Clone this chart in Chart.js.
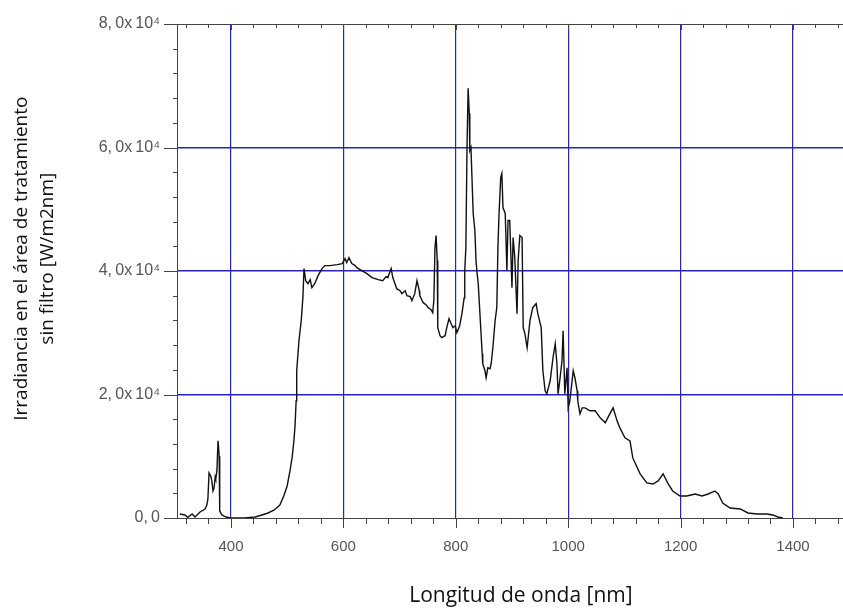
<!DOCTYPE html>
<html>
<head>
<meta charset="utf-8">
<script src="https://cdn.jsdelivr.net/npm/chart.js@4/dist/chart.umd.min.js"></script>
<style>
  html, body { margin: 0; padding: 0; background: #fff; }
  canvas { display: block; }
</style>
</head>
<body>
<canvas id="c" width="843" height="615"></canvas>
<script>
// Wavelength (nm)
const wavelength = [
  309,318,323,331,336,345,354,357,359,361,364,366,368,370,372,373,375,377,379,380,
  384,391,400,425,443,455,466,477,487,494,500,505,509,512,514,516,517,521,525,528,
  530,533,537,541,544,549,555,562,567,576,589,598,603,606,610,615,621,624,633,642,
  651,662,670,676,679,685,688,695,701,704,710,713,719,722,727,731,735,736,742,747,
  751,756,759,761,763,765,767,768,772,775,781,784,788,791,795,799,802,807,811,815,
  816,818,820,822,824,825,827,829,831,834,836,838,840,843,847,848,852,854,857,861,
  863,866,870,873,875,877,880,882,884,888,891,893,896,900,902,905,909,911,914,918,
  920,923,927,932,937,943,946,952,955,959,962,968,973,977,980,982,985,989,991,994,
  998,1000,1003,1007,1009,1012,1016,1017,1021,1025,1030,1039,1048,1057,1066,1074,1080,1087,1092,1101,
  1110,1115,1128,1140,1151,1160,1169,1178,1186,1199,1211,1226,1238,1249,1261,1267,1275,1288,1306,1320,
  1336,1354,1364,1373,1382
];
// Irradiance without filter (W/m2nm)
const irradiance = [
  650,490,100,650,160,970,1460,2100,3080,7300,6810,6000,4380,4870,6650,6330,7620,12490,10060,1140,
  490,160,0,0,160,490,810,1300,2110,3570,5190,7620,9890,12490,14920,18980,23840,28710,31950,35680,
  40390,38440,37950,38600,37310,37950,39250,40390,40870,40870,41040,41200,42010,41360,42170,41200,40870,40550,40060,39580,
  38930,38600,38440,39090,38930,40390,38930,37140,36820,36330,36820,36010,35850,35200,36330,38440,36820,36010,34870,34550,
  34060,33740,33250,35200,43790,45740,41690,30820,29520,29200,29520,30820,32280,31630,30820,31140,30010,31140,33090,35680,
  40060,43790,60010,69580,65530,59530,60010,54660,49310,46550,41690,39580,37950,33090,26600,24980,23840,22710,24330,24170,
  24980,27570,31950,34060,43790,49310,55150,55800,50280,49310,40060,48170,48170,37310,45420,42170,33090,41690,45740,45420,
  30820,29850,27570,31950,34060,34710,33090,30820,23840,20600,20110,22220,25950,28220,24980,20110,22220,25470,30330,20110,
  24330,17840,18980,22220,23840,22710,20600,18980,16870,17840,17840,17360,17360,16220,15410,16870,17840,15730,14600,12980,
  12490,9730,7140,5680,5510,6000,7140,5510,4380,3570,3570,3890,3570,3890,4380,3890,2430,1620,1460,810,
  650,650,490,160,0
];
// Axis settings
const xMin = 304, xMax = 1489, xStep = 40, xMajor = 200;
const yMin = 0, yMax = 80000, yStep = 4000, yMajor = 20000;
const yTickLabels = {
  0: '0,\u20090',
  20000: '2,\u20090x\u200910\u2074',
  40000: '4,\u20090x\u200910\u2074',
  60000: '6,\u20090x\u200910\u2074',
  80000: '8,\u20090x\u200910\u2074'
};
const xTitle = '    Longitud de onda [nm]';
const yTitle = ['     Irradiancia en el área de tratamiento', '     sin filtro [W/m2nm]'];

const GRID_BLUE = '#2424c0';
const AXIS_COL = '#444';

const frameTicks = {
  id: 'frameTicks',
  afterDraw(chart) {
    const {ctx, chartArea: ca, scales: {x, y}} = chart;
    ctx.save();
    ctx.strokeStyle = AXIS_COL;
    ctx.lineWidth = 1;
    ctx.beginPath();
    ctx.moveTo(ca.left, ca.top + 0.5);
    ctx.lineTo(ca.right, ca.top + 0.5);
    x.ticks.forEach(t => {
      const px = Math.round(x.getPixelForValue(t.value)) + 0.5;
      const major = t.value % xMajor === 0;
      ctx.moveTo(px, ca.bottom);
      ctx.lineTo(px, ca.bottom + (major ? 10 : 6));
      ctx.moveTo(px, ca.top);
      ctx.lineTo(px, ca.top + (major ? 6 : 4));
    });
    y.ticks.forEach(t => {
      const py = Math.round(y.getPixelForValue(t.value)) + 0.5;
      const major = t.value % yMajor === 0;
      ctx.moveTo(ca.left, py);
      ctx.lineTo(ca.left - (major ? 13 : 4), py);
    });
    ctx.stroke();
    ctx.restore();
  }
};

new Chart(document.getElementById('c'), {
  type: 'line',
  data: {
    datasets: [{
      data: wavelength.map((w, i) => ({x: w, y: irradiance[i]})),
      borderColor: '#111',
      borderWidth: 1.4,
      pointRadius: 0,
      tension: 0,
      fill: false
    }]
  },
  options: {
    responsive: false,
    animation: false,
    devicePixelRatio: 1,
    layout: {padding: {top: 24, right: 0, left: 0, bottom: 0}},
    plugins: {legend: {display: false}, tooltip: {enabled: false}},
    scales: {
      x: {
        type: 'linear',
        min: xMin, max: xMax,
        afterFit(s) { s.height = 97; s.paddingLeft = 0; s.paddingRight = 0; },
        grid: {
          drawTicks: false,
          color: c => (c.tick && c.tick.value % xMajor === 0) ? GRID_BLUE : 'rgba(0,0,0,0)',
          lineWidth: 1.2
        },
        border: {display: true, color: AXIS_COL, width: 1},
        ticks: {
          stepSize: xStep,
          includeBounds: false,
          autoSkip: false,
          maxRotation: 0,
          padding: 20,
          color: '#555',
          font: {family: 'Liberation Sans, Arial, sans-serif', size: 15},
          callback: v => (v % xMajor === 0) ? String(v) : ''
        },
        title: {
          display: true,
          text: xTitle,
          color: '#111',
          font: {family: 'Open Sans', size: 21},
          padding: {top: 0, bottom: 6}
        }
      },
      y: {
        type: 'linear',
        min: yMin, max: yMax,
        afterFit(s) { s.width = 177; s.paddingTop = 0; s.paddingBottom = 0; },
        grid: {
          drawTicks: false,
          color: c => (c.tick && c.tick.value % yMajor === 0 && c.tick.value > 0 && c.tick.value < yMax) ? GRID_BLUE : 'rgba(0,0,0,0)',
          lineWidth: 1.5
        },
        border: {display: true, color: AXIS_COL, width: 1},
        ticks: {
          stepSize: yStep,
          autoSkip: false,
          padding: 17,
          color: '#555',
          font: {family: 'Liberation Sans, Arial, sans-serif', size: 16},
          callback: v => (yTickLabels[v] !== undefined) ? yTickLabels[v] : ''
        },
        title: {
          display: true,
          text: yTitle,
          color: '#111',
          font: {family: 'Open Sans', size: 19, lineHeight: 1.37},
          padding: {top: 9, bottom: 0}
        }
      }
    }
  },
  plugins: [frameTicks]
});
</script>
</body>
</html>
